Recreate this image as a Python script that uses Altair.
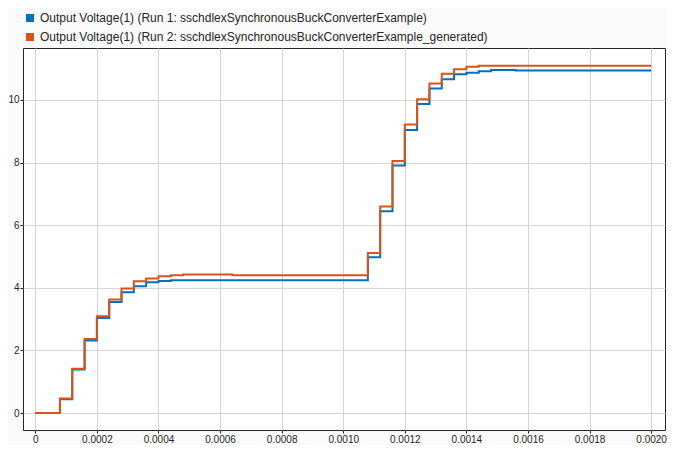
import altair as alt
import pandas as pd

run1_name = "Output Voltage(1) (Run 1: sschdlexSynchronousBuckConverterExample)"
run2_name = "Output Voltage(1) (Run 2: sschdlexSynchronousBuckConverterExample_generated)"

run1_t = [0, 0.00008, 0.00012, 0.00016, 0.00020, 0.00024, 0.00028, 0.00032, 0.00036,
          0.00040, 0.00044, 0.00108, 0.00112, 0.00116, 0.00120, 0.00124, 0.00128,
          0.00132, 0.00136, 0.00140, 0.00144, 0.00148, 0.00156, 0.00200]
run1_v = [0, 0.44, 1.39, 2.32, 3.04, 3.55, 3.86, 4.05, 4.18,
          4.22, 4.24, 4.98, 6.45, 7.91, 9.04, 9.87, 10.37,
          10.66, 10.82, 10.87, 10.92, 10.96, 10.94, 10.94]

run2_t = [0, 0.00008, 0.00012, 0.00016, 0.00020, 0.00024, 0.00028, 0.00032, 0.00036,
          0.00040, 0.00044, 0.00048, 0.00064, 0.00108, 0.00112, 0.00116, 0.00120,
          0.00124, 0.00128, 0.00132, 0.00136, 0.00140, 0.00144, 0.00200]
run2_v = [0, 0.47, 1.42, 2.37, 3.09, 3.63, 3.98, 4.21, 4.30,
          4.37, 4.40, 4.43, 4.40, 5.11, 6.60, 8.05, 9.22,
          10.02, 10.53, 10.84, 10.98, 11.06, 11.09, 11.09]

x_ticks = [0, 0.0002, 0.0004, 0.0006, 0.0008, 0.0010, 0.0012, 0.0014, 0.0016, 0.0018, 0.0020]
y_ticks = [0, 2, 4, 6, 8, 10]

df = pd.concat([
    pd.DataFrame({"t": run1_t, "v": run1_v, "series": run1_name, "order": 0}),
    pd.DataFrame({"t": run2_t, "v": run2_v, "series": run2_name, "order": 1}),
])

font = "Liberation Sans"
color_scale = alt.Scale(domain=[run1_name, run2_name], range=["#0072BD", "#D95319"])

x_enc = alt.X("t:Q", title=None,
              scale=alt.Scale(domain=[-0.00004, 0.002045], nice=False, zero=False),
              axis=alt.Axis(values=x_ticks,
                            labelExpr="datum.value == 0 ? '0' : format(datum.value, '.4f')"))
y_enc = alt.Y("v:Q", title=None,
              scale=alt.Scale(domain=[-0.54, 11.66], nice=False, zero=False),
              axis=alt.Axis(values=y_ticks))

base = alt.Chart(df)

lines = base.mark_line(interpolate="step-after", strokeWidth=2).encode(
    x=x_enc, y=y_enc,
    color=alt.Color("series:N", scale=color_scale, legend=None),
    order="order:Q",
)

keys = base.mark_point(shape="square", filled=True, opacity=0, size=1).encode(
    x=x_enc, y=y_enc,
    color=alt.Color("series:N", scale=color_scale,
                    legend=alt.Legend(title=None, orient="none", legendX=1, legendY=-36,
                                      padding=0, symbolType="square", symbolSize=64,
                                      symbolOpacity=1, symbolStrokeWidth=0,
                                      labelFontSize=12, labelFont=font, labelColor="#262626",
                                      labelLimit=1000, rowPadding=7, labelOffset=4)),
)

chart = alt.layer(lines, keys).resolve_legend(color="independent").properties(
    width=642,
    height=382,
    autosize=alt.AutoSizeParams(type="none"),
    padding={"left": 15, "top": 40, "right": 2, "bottom": 15},
    background="#fafafa",
).configure_view(
    fill="white",
    stroke="#262626",
    strokeWidth=1,
).configure_axis(
    domain=False,
    grid=True,
    gridColor="#d4d4d4",
    gridWidth=1,
    ticks=True,
    tickColor="#262626",
    tickSize=3,
    labelFont=font,
    labelFontSize=10,
    labelColor="#262626",
    labelPadding=1,
)

chart.save("out.html", embed_options={"renderer": "svg", "actions": False})
